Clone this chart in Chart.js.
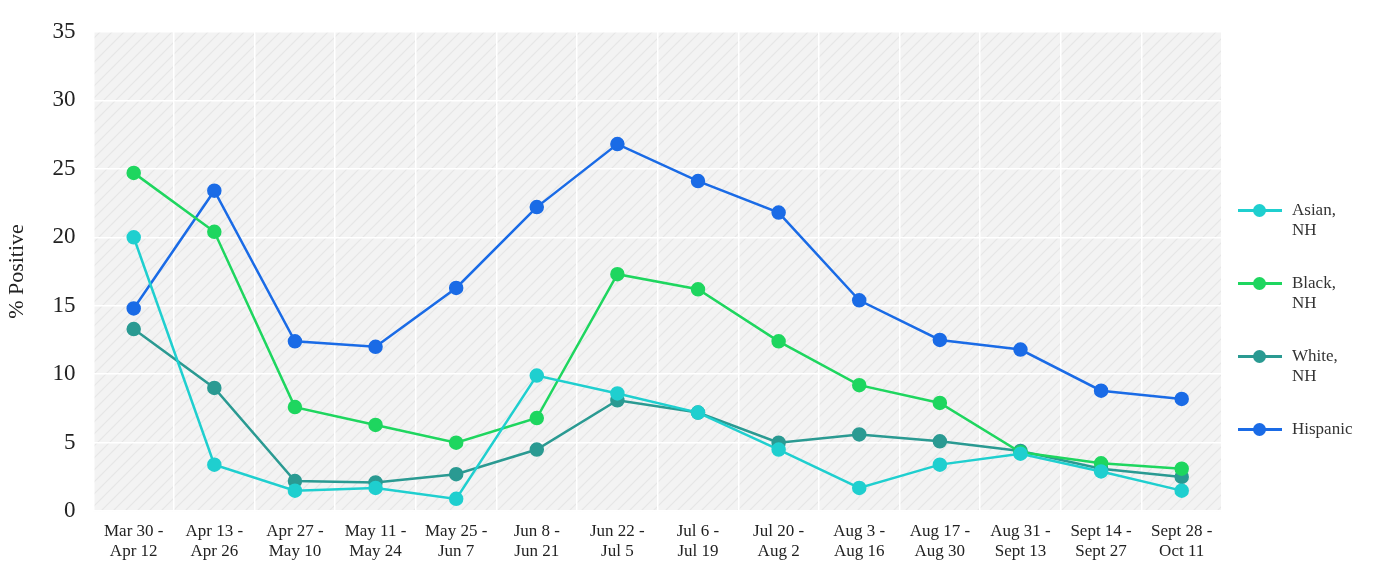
<!DOCTYPE html>
<html><head><meta charset="utf-8">
<script src="https://cdn.jsdelivr.net/npm/chart.js@4"></script>
<style>
body{margin:0;background:#fff;font-family:"Liberation Serif",serif;}
#wrap{position:relative;width:1387px;height:572px;}
#legend{position:absolute;left:1238px;top:200px;font-size:17px;color:#333;}
.it{display:flex;align-items:flex-start;height:73px;}
.sw{position:relative;width:44px;height:20px;margin-right:10px;}
.sw i{position:absolute;left:0;top:9px;width:44px;height:3px;}
.sw b{position:absolute;left:15px;top:4px;width:13px;height:13px;border-radius:50%;}
</style></head><body>
<div id="wrap"><canvas id="c" width="1387" height="572"></canvas><div id="legend"></div></div>
<script>
var categories = [["Mar 30 -","Apr 12"],["Apr 13 -","Apr 26"],["Apr 27 -","May 10"],["May 11 -","May 24"],["May 25 -","Jun 7"],["Jun 8 -","Jun 21"],["Jun 22 -","Jul 5"],["Jul 6 -","Jul 19"],["Jul 20 -","Aug 2"],["Aug 3 -","Aug 16"],["Aug 17 -","Aug 30"],["Aug 31 -","Sept 13"],["Sept 14 -","Sept 27"],["Sept 28 -","Oct 11"]];
var asian = [20.0,3.4,1.5,1.7,0.9,9.9,8.6,7.2,4.5,1.7,3.4,4.2,2.9,1.5];
var black = [24.7,20.4,7.6,6.3,5.0,6.8,17.3,16.2,12.4,9.2,7.9,4.3,3.5,3.1];
var white = [13.3,9.0,2.2,2.1,2.7,4.5,8.1,7.2,5.0,5.6,5.1,4.4,3.1,2.5];
var hispanic = [14.8,23.4,12.4,12.0,16.3,22.2,26.8,24.1,21.8,15.4,12.5,11.8,8.8,8.2];
var names = [["Asian,","NH"],["Black,","NH"],["White,","NH"],["Hispanic"]];
var colors = ["#1fcfcf","#1ed65f","#2a9a92","#1a6be6"];

var pc = document.createElement('canvas'); pc.width = 12; pc.height = 12;
var px = pc.getContext('2d');
px.fillStyle = '#f3f3f3'; px.fillRect(0,0,12,12);
px.strokeStyle = '#e6e6e6'; px.lineWidth = 1.2;
px.beginPath(); px.moveTo(0,12); px.lineTo(12,0); px.moveTo(-6,6); px.lineTo(6,-6); px.moveTo(6,18); px.lineTo(18,6); px.stroke();

var bg = {id:'bg', beforeDraw: function(ch){
  var a = ch.chartArea, c = ch.ctx;
  c.save(); c.fillStyle = c.createPattern(pc,'repeat'); c.fillRect(a.left,a.top,a.right-a.left,a.bottom-a.top); c.restore();
}};

var series = [asian, black, white, hispanic];
new Chart(document.getElementById('c'), {
  type: 'line',
  data: {labels: categories, datasets: series.map(function(d,i){ return {
    label: names[i].join(' '), data: d, borderColor: colors[i], backgroundColor: colors[i],
    borderWidth: 2.5, pointRadius: 6, pointHoverRadius: 6, tension: 0 };})},
  options: {
    responsive: false, animation: false,
    layout: {padding: {right: 165, top: 0}},
    plugins: {legend: {display: false}, tooltip: {enabled: false}},
    scales: {
      x: {offset: true, grid: {color: '#ffffff', lineWidth: 1.5, offset: true, drawTicks: false},
          border: {display: false},
          ticks: {color: '#222', font: {family: 'Liberation Serif', size: 17}, padding: 10, maxRotation: 0, autoSkip: false}},
      y: {min: 0, max: 35, grid: {color: '#ffffff', lineWidth: 1.5, drawTicks: false}, border: {display: false},
          ticks: {stepSize: 5, color: '#222', font: {family: 'Liberation Serif', size: 23}, padding: 18},
          title: {display: true, text: '% Positive', color: '#222', font: {family: 'Liberation Serif', size: 22}}}
    }
  },
  plugins: [bg]
});

var lg = document.getElementById('legend');
names.forEach(function(n,i){
  var it = document.createElement('div'); it.className = 'it';
  it.innerHTML = '<div class="sw"><i style="background:'+colors[i]+'"></i><b style="background:'+colors[i]+'"></b></div><div>'+n.join('<br>')+'</div>';
  lg.appendChild(it);
});
</script>
</body></html>
